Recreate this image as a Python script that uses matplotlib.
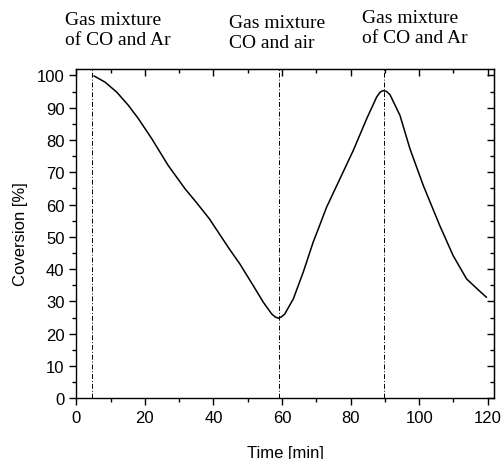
import matplotlib
matplotlib.use("Agg")
import matplotlib.pyplot as plt
from matplotlib.ticker import MultipleLocator

time_min = [5.2, 8.4, 11.8, 15.2, 18.1, 22.0, 26.8, 31.7, 34.9, 38.8, 44.6, 47.7,
            51.6, 54.5, 57.0, 58.0, 58.9, 59.8, 60.8, 63.3, 66.2, 69.1, 70.6, 73.0, 76.9,
            80.8, 84.7, 87.6, 88.6, 89.5, 90.5, 91.5, 94.4, 97.3, 101.2, 106.0, 109.9,
            113.8, 117.0, 119.6]
conversion = [99.8, 97.9, 94.8, 90.7, 86.6, 80.4, 72.1, 64.9, 60.8, 55.6, 46.3, 41.6,
              34.9, 29.8, 26.1, 25.2, 24.8, 25.2, 26.1, 30.8, 39.1, 48.4, 52.5, 59.2, 68.0,
              76.8, 86.6, 93.3, 94.8, 95.3, 95.0, 94.0, 87.6, 77.3, 65.9, 53.5, 44.2,
              37.0, 33.8, 31.3]

switch_times = [4.5, 59.0, 89.7]
annotations = ["Gas mixture\nof CO and Ar", "Gas mixture\nCO and air", "Gas mixture\nof CO and Ar"]

fig = plt.figure(figsize=(5.04, 4.6), dpi=100)
ax = fig.add_axes([0.1514, 0.132, 0.8286, 0.716])

ax.plot(time_min, conversion, color="black", lw=1.1, solid_joinstyle="round")
for t in switch_times:
    ax.axvline(t, color="black", lw=0.7, linestyle=(0, (5, 2, 1, 2)))

ax.set_xlim(0, 121.8)
ax.set_ylim(0, 102)
ax.xaxis.set_major_locator(MultipleLocator(20))
ax.xaxis.set_minor_locator(MultipleLocator(10))
ax.yaxis.set_major_locator(MultipleLocator(10))
ax.yaxis.set_minor_locator(MultipleLocator(5))

sans = "Liberation Sans"
ax.tick_params(which="both", bottom=True, left=True, top=False, right=False,
               direction="out", width=1, labelsize=12)
ax.tick_params(which="major", length=5)
ax.tick_params(which="minor", length=3)
for lab in ax.get_xticklabels() + ax.get_yticklabels():
    lab.set_family(sans)

sec_x = ax.secondary_xaxis("top")
sec_x.xaxis.set_major_locator(MultipleLocator(20))
sec_x.xaxis.set_minor_locator(MultipleLocator(10))
sec_x.tick_params(which="both", direction="in", labeltop=False, width=1)
sec_x.tick_params(which="major", length=5)
sec_x.tick_params(which="minor", length=3)
sec_y = ax.secondary_yaxis("right")
sec_y.yaxis.set_major_locator(MultipleLocator(10))
sec_y.yaxis.set_minor_locator(MultipleLocator(5))
sec_y.tick_params(which="both", direction="in", labelright=False, width=1)
sec_y.tick_params(which="major", length=5)
sec_y.tick_params(which="minor", length=3)

for s in ax.spines.values():
    s.set_linewidth(1)

ax.set_xlabel("Time [min]", family=sans, fontsize=12, labelpad=14)
ax.set_ylabel("Coversion [%]", family=sans, fontsize=12, labelpad=6)

positions = [(65, 12), (229, 15), (362, 10)]
for (px, py), txt in zip(positions, annotations):
    fig.text(px / 504, 1 - py / 460, txt, family="Liberation Serif", fontsize=14,
             ha="left", va="top", linespacing=1.2)

fig.savefig("out.png", dpi=100)
